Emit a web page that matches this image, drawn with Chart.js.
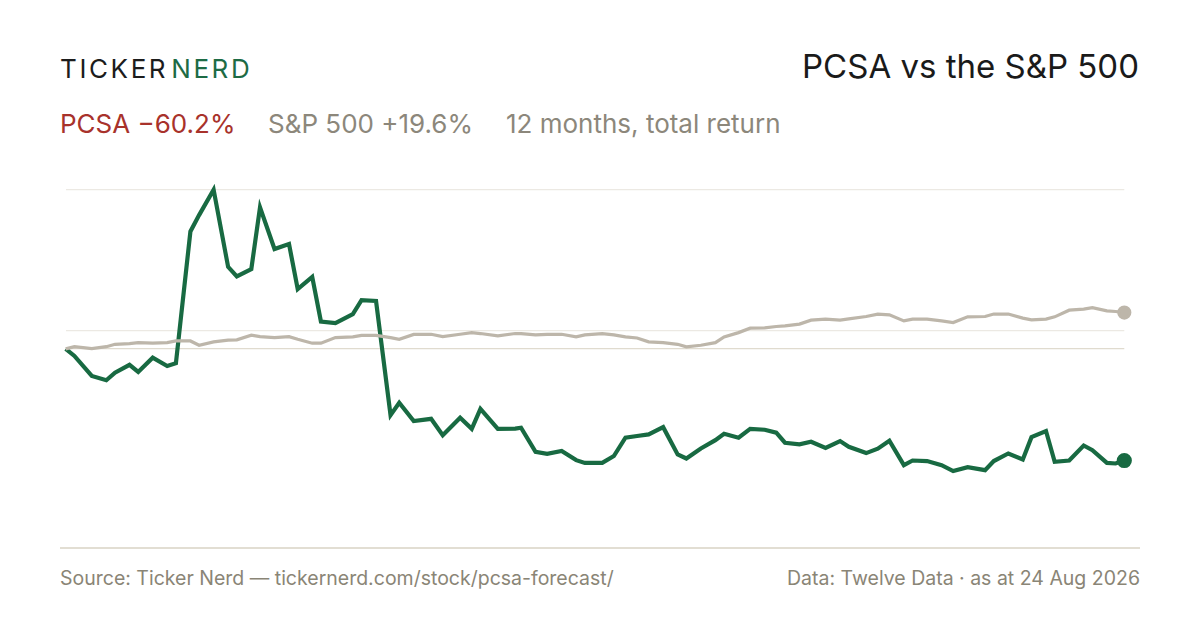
<!DOCTYPE html>
<html>
<head>
<meta charset="utf-8">
<title>PCSA vs the S&amp;P 500</title>
<script src="https://cdn.jsdelivr.net/npm/chart.js@4.4.1/dist/chart.umd.min.js"></script>
<style>
  html, body { margin: 0; padding: 0; background: #fff; }
  body { width: 1200px; height: 630px; position: relative; overflow: hidden; font-family: Inter, "Noto Sans", sans-serif; }
  .brand { position: absolute; left: 60px; top: 53px; font-size: 26px; letter-spacing: 2.6px; color: #1c1c1c; line-height: 32px; }
  .brand span { color: #1d6b45; margin-left: 3px; }
  .title { position: absolute; right: 61px; top: 45px; font-size: 33px; color: #1a1a1a; line-height: 42px; }
  .sub { position: absolute; left: 60px; top: 106px; font-size: 26px; line-height: 36px; color: #8c877b; white-space: nowrap; }
  .sub .pcsa { color: #a8322b; }
  .sub .spx { position: absolute; left: 208px; }
  .sub .period { position: absolute; left: 446px; }
  .rule { position: absolute; left: 60px; width: 1080px; top: 547px; height: 2px; background: #e2ded3; }
  .foot { position: absolute; top: 565px; font-size: 19.5px; color: #8a8576; line-height: 26px; white-space: nowrap; }
  .foot.left { left: 60px; }
  .foot.right { right: 60px; }
  #wrap { position: absolute; left: 56px; top: 180px; width: 1078px; height: 379px; }
</style>
</head>
<body>
<div class="brand">TICKER<span>NERD</span></div>
<div class="title">PCSA vs the S&amp;P 500</div>
<div class="sub"><span class="pcsa">PCSA −60.2%</span><span class="spx">S&amp;P 500 +19.6%</span><span class="period">12 months, total return</span></div>
<div id="wrap"><canvas id="chart"></canvas></div>
<div class="rule"></div>
<div class="foot left">Source: Ticker Nerd — tickernerd.com/stock/pcsa-forecast/</div>
<div class="foot right">Data: Twelve Data · as at 24 Aug 2026</div>
<script>
// days since start of the 12-month window
const days = [0, 3, 9, 14, 17, 22, 25, 30, 35, 38, 43, 46, 51, 56, 59, 64, 67, 72, 77, 80,
  85, 88, 93, 99, 102, 107, 112, 115, 120, 126, 130, 136, 140, 143, 149, 155, 157, 162, 166, 171,
  176, 179, 185, 189, 193, 197, 201, 206, 211, 214, 219, 224, 227, 232, 236, 241, 245, 248, 253, 257,
  262, 267, 270, 276, 280, 284, 289, 292, 297, 302, 306, 311, 317, 320, 325, 330, 333, 338, 341, 346,
  351, 354, 359, 362, 365];

// total return in %, PCSA
const pcsaReturn = [0, -3.8, -14.6, -16.9, -12.8, -8.6, -12.4, -4.7, -9.2, -7.7, 63.4, 72.2, 85.9, 44.3, 39.1, 43.1, 76.4, 53.9, 56.6, 32.3,
  38.9, 14.8, 13.9, 18.8, 26.3, 25.9, -35.7, -29.0, -38.9, -37.7, -46.6, -37.1, -43.1, -32.3, -43.1, -43.0, -42.5, -55.5, -56.6, -55.1,
  -60.0, -61.5, -61.5, -57.8, -47.9, -47.0, -46.1, -42.2, -56.9, -59.1, -53.7, -49.2, -45.8, -47.9, -43.1, -43.6, -45.2, -50.6, -51.5, -50.1,
  -53.4, -49.7, -52.8, -56.2, -53.8, -49.5, -62.7, -60.2, -60.5, -62.7, -65.9, -63.8, -65.4, -60.5, -56.4, -59.6, -47.6, -44.3, -60.9, -60.2,
  -52.1, -54.6, -61.5, -61.8, -60.2];

// total return in %, S&P 500
const spxReturn = [0, 1.2, 0.2, 1.2, 2.5, 2.9, 3.4, 3.1, 3.4, 4.3, 4.3, 2.0, 3.8, 4.7, 4.9, 7.4, 6.6, 6.1, 6.6, 5.2,
  3.1, 3.1, 6.1, 6.5, 7.3, 7.3, 6.1, 5.2, 7.8, 7.9, 6.6, 7.9, 8.8, 8.3, 7.0, 8.3, 8.3, 7.6, 7.9, 7.9,
  6.5, 7.6, 8.3, 7.6, 6.5, 5.9, 3.8, 3.4, 2.5, 1.1, 2.0, 3.4, 6.5, 8.8, 11.2, 11.4, 12.1, 12.4, 13.4, 15.5,
  16.1, 15.5, 16.2, 17.5, 18.8, 18.4, 15.1, 16.1, 16.1, 15.1, 14.2, 17.3, 17.5, 18.8, 18.8, 16.6, 15.7, 16.1, 17.3, 20.9,
  21.5, 22.3, 20.5, 20.2, 19.6];

// reference lines: start level, +10%, top of range
const gridValues = [0, 10, 85.9];

const toPoints = arr => arr.map((v, i) => ({ x: days[i], y: v }));
const lastDot = ctx => ctx.dataIndex === days.length - 1 ? 5.5 : 0;

new Chart(document.getElementById('chart'), {
  type: 'line',
  data: {
    datasets: [
      {
        label: 'S&P 500',
        data: toPoints(spxReturn),
        borderColor: '#bdb6aa',
        backgroundColor: '#bdb6aa',
        borderWidth: 3.2,
        pointRadius: lastDot,
        pointHoverRadius: 0,
        tension: 0,
        clip: false
      },
      {
        label: 'PCSA',
        data: toPoints(pcsaReturn),
        borderColor: '#186a42',
        backgroundColor: '#186a42',
        borderWidth: 4.2,
        pointRadius: lastDot,
        pointHoverRadius: 0,
        tension: 0,
        clip: false
      }
    ]
  },
  options: {
    responsive: true,
    maintainAspectRatio: false,
    animation: false,
    layout: { padding: { left: 8, right: 8, top: 9, bottom: 0 } },
    plugins: { legend: { display: false }, tooltip: { enabled: false } },
    scales: {
      x: { type: 'linear', min: 0, max: 365, display: false },
      y: {
        min: -108.1,
        max: 85.9,
        afterBuildTicks: axis => { axis.ticks = gridValues.map(v => ({ value: v })); },
        ticks: { display: false },
        border: { display: false },
        grid: {
          drawTicks: false,
          lineWidth: 1.2,
          color: ctx => ctx.tick && ctx.tick.value === 0 ? '#e0dbcf' : '#ece9e3'
        }
      }
    }
  }
});
</script>
</body>
</html>
